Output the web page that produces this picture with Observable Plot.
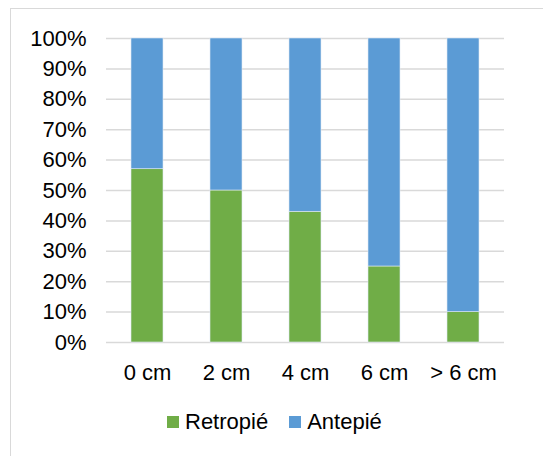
<!DOCTYPE html>
<html>
<head>
<meta charset="utf-8">
<script src="https://cdn.jsdelivr.net/npm/d3@7"></script>
<script src="https://cdn.jsdelivr.net/npm/@observablehq/plot@0.6"></script>
<style>
  html, body { margin: 0; padding: 0; background: #fff; overflow: hidden; }
  body { width: 543px; height: 456px; position: relative; font-family: "Liberation Sans", Arial, sans-serif; }
  #frame { position: absolute; left: 10px; top: 8px; width: 600px; height: 500px; border-left: 1.4px solid #d9d9d9; border-top: 1.4px solid #d9d9d9; }
  #chart { position: absolute; left: 0; top: 0; }
  #legend { position: absolute; left: 167px; top: 411px; font-size: 22px; line-height: 22px; color: #000; display: flex; align-items: baseline; white-space: nowrap; }
  .sw { display: inline-block; width: 12px; height: 12px; margin-right: 6px; position: relative; top: -1px; }
  .item { display: inline-flex; align-items: baseline; margin-right: 21px; }
</style>
</head>
<body>
<div id="frame"></div>
<div id="chart"></div>
<div id="legend"></div>
<script>
const categories = ["0 cm", "2 cm", "4 cm", "6 cm", "> 6 cm"];
const seriesNames = ["Retropié", "Antepié"];
const retropie = [57, 50, 43, 25, 10];
const antepie = [43, 50, 57, 75, 90];
const yTicks = [0, 10, 20, 30, 40, 50, 60, 70, 80, 90, 100];
const colors = ["#70AD47", "#5B9BD5"];

const rows = [];
categories.forEach((c, i) => {
  rows.push({cat: c, series: seriesNames[0], value: retropie[i]});
  rows.push({cat: c, series: seriesNames[1], value: antepie[i]});
});

const chart = Plot.plot({
  width: 543,
  height: 395,
  marginLeft: 106,
  marginRight: 39,
  marginTop: 38,
  marginBottom: 53,
  style: {fontFamily: '"Liberation Sans", Arial, sans-serif', fontSize: "22px", color: "#000", background: "transparent"},
  x: {domain: categories, paddingInner: 0.6, paddingOuter: 0.3, label: null},
  y: {domain: [0, 100], label: null},
  color: {domain: seriesNames, range: colors},
  marks: [
    Plot.ruleY(yTicks, {stroke: "#d9d9d9", strokeWidth: 1.5}),
    Plot.barY(rows, Plot.stackY({order: seriesNames}, {x: "cat", y: "value", fill: "series", stroke: "#dfe9f5", strokeWidth: 0.6})),
    Plot.axisY(yTicks, {tickSize: 0, tickPadding: 20, tickFormat: d => d + "%", fill: "#000", fontSize: 22}),
    Plot.axisX({tickSize: 0, tickPadding: 22, fill: "#000", fontSize: 22})
  ]
});
document.getElementById("chart").appendChild(chart);

const legend = document.getElementById("legend");
seriesNames.forEach((s, i) => {
  const item = document.createElement("span");
  item.className = "item";
  const sw = document.createElement("span");
  sw.className = "sw";
  sw.style.background = colors[i];
  item.appendChild(sw);
  item.appendChild(document.createTextNode(s));
  legend.appendChild(item);
});
</script>
</body>
</html>
